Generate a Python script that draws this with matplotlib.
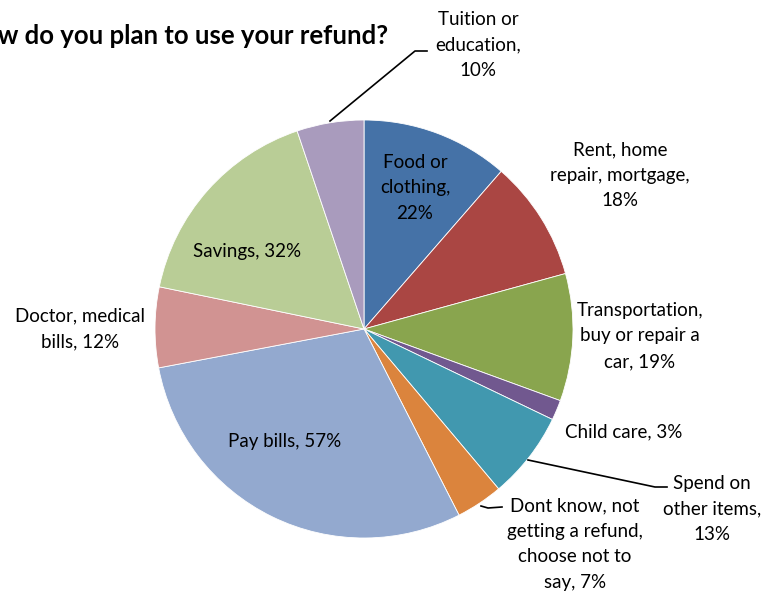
import matplotlib
matplotlib.use("Agg")
import matplotlib.pyplot as plt

categories = ["Food or\nclothing", "Rent, home\nrepair, mortgage", "Transportation,\nbuy or repair a\ncar",
              "Child care", "Spend on\nother items", "Dont know, not\ngetting a refund,\nchoose not to\nsay",
              "Pay bills", "Doctor, medical\nbills", "Savings", "Tuition or\neducation"]
values = [22, 18, 19, 3, 13, 7, 57, 12, 32, 10]
colors = ["#4572A7", "#AA4643", "#89A54E", "#71588F", "#4198AF", "#DB843D",
          "#93A9CF", "#D19392", "#B9CD96", "#A99BBD"]
title = "How do you plan to use your refund?"
# separator between category and value in each label
separators = [",\n", ",\n", ", ", ", ", ",\n", ", ", ", ", ", ", ", ", ",\n"]

W, H = 778, 594
fig = plt.figure(figsize=(W / 100, H / 100), dpi=100)
ax = fig.add_axes([0, 0, 1, 1])

cx, cy, r = 364, H - 329, 209
ax.pie(values, colors=colors, startangle=90, counterclock=False,
       center=(cx, cy), radius=r, frame=True,
       wedgeprops=dict(linewidth=0.6, edgecolor="white"))
ax.set_xlim(0, W)
ax.set_ylim(0, H)
ax.set_aspect("equal")
ax.axis("off")

font = "Lato"
fs = 13.5

def Y(y):
    return H - y

label_pos = [(415, 188), (620, 175), (640, 336),
             (624, 432), (712, 509), (575, 544),
             (285, 441), (80, 329), (247, 252),
             (478, 45)]

for cat, v, sep, (x, y) in zip(categories, values, separators, label_pos):
    ax.text(x, Y(y), f"{cat}{sep}{v}%", ha="center", va="center", fontsize=fs,
            family=font, linespacing=1.6, color="#000000")

# leader lines
ax.plot([330, 415, 427], [Y(121), Y(51), Y(51)], color="black", lw=1.2)
ax.plot([528, 655, 667], [Y(460), Y(487), Y(487)], color="black", lw=1.2)
ax.plot([481, 488, 502], [Y(506), Y(508), Y(507)], color="black", lw=1.2)

ax.text(388, Y(36), title, ha="right", va="center", fontsize=18.5,
        family=font, fontweight="bold", clip_on=False)

fig.savefig("out.png", dpi=100)
